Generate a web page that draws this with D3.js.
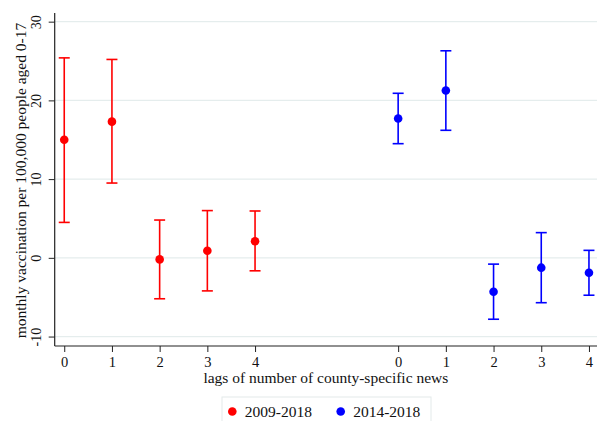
<!DOCTYPE html>
<html><head><meta charset="utf-8">
<script src="https://cdn.jsdelivr.net/npm/d3@7"></script>
<style>body{margin:0;background:#fff}svg{display:block}text{font-family:"Liberation Serif","Times New Roman",serif;fill:#111}</style>
</head><body>
<svg id="c" width="597" height="421"></svg>
<script>
const lags = [0, 1, 2, 3, 4];
const seriesNames = ["2009-2018", "2014-2018"];
const seriesColors = ["#ff0000", "#0000ff"];
const est2009 = [15.0, 17.3, -0.2, 0.9, 2.1];
const lo2009 = [4.5, 9.5, -5.2, -4.2, -1.65];
const hi2009 = [25.4, 25.2, 4.8, 6.0, 5.95];
const est2014 = [17.7, 21.25, -4.3, -1.25, -1.9];
const lo2014 = [14.5, 16.2, -7.8, -5.7, -4.75];
const hi2014 = [20.9, 26.3, -0.8, 3.2, 0.95];
const yTicks = [-10, 0, 10, 20, 30];
const xTitle = "lags of number of county-specific news";
const yTitle = "monthly vaccination per 100,000 people aged 0-17";

const groupGap = 7;
const series = [
  {name: seriesNames[0], color: seriesColors[0], est: est2009, lo: lo2009, hi: hi2009},
  {name: seriesNames[1], color: seriesColors[1], est: est2014, lo: lo2014, hi: hi2014}
];

const svg = d3.select("#c");
const pL = 54.7, pR = 598.5, pT = 13, pB = 346;
const x = d3.scaleLinear().domain([-0.2, 11.2]).range([pL, pR]);
const y = d3.scaleLinear().domain([-11.2, 31.1]).range([pB, pT]);

// grid
svg.append("g").selectAll("line").data(yTicks).join("line")
  .attr("x1", pL).attr("x2", 597)
  .attr("y1", d => y(d)).attr("y2", d => y(d))
  .attr("stroke", "#e5eded").attr("stroke-width", 1.2);

// y axis
const ya = svg.append("g").attr("transform", `translate(${pL},0)`)
  .call(d3.axisLeft(y).tickValues(yTicks).tickSize(6).tickPadding(8).tickFormat(d => String(d)));
ya.select(".domain").attr("stroke", "#222").attr("stroke-width", 1.2).attr("d", `M0,${pT}V${pB}`);
ya.selectAll(".tick line").attr("stroke", "#222");
ya.selectAll(".tick text").attr("font-size", 14).attr("text-anchor", "middle")
  .attr("x", 0).attr("dy", 0).attr("transform", "translate(-14,0) rotate(-90)");

// x axis
const xVals = [];
series.forEach((s, si) => lags.forEach(l => xVals.push(l + si * groupGap)));
const xa = svg.append("g").attr("transform", `translate(0,${pB})`)
  .call(d3.axisBottom(x).tickValues(xVals).tickSize(6).tickPadding(5)
    .tickFormat(d => String(d >= groupGap ? d - groupGap : d)));
xa.select(".domain").attr("stroke", "#222").attr("stroke-width", 1.2).attr("d", `M${pL},0H597`);
xa.selectAll(".tick line").attr("stroke", "#222");
xa.selectAll(".tick text").attr("font-size", 14.5);

// titles
svg.append("text").attr("x", (pL + 597) / 2).attr("y", 383).attr("text-anchor", "middle")
  .attr("font-size", 15.5).text(xTitle);
svg.append("text").attr("transform", `translate(25.5,180.5) rotate(-90)`)
  .attr("text-anchor", "middle").attr("font-size", 15.5).text(yTitle);

// marks
series.forEach((s, si) => {
  const g = svg.append("g");
  const data = lags.map((l, i) => ({xv: l + si * groupGap, est: s.est[i], lo: s.lo[i], hi: s.hi[i]}));
  g.selectAll(".v").data(data).join("line")
    .attr("x1", d => x(d.xv)).attr("x2", d => x(d.xv))
    .attr("y1", d => y(d.lo)).attr("y2", d => y(d.hi))
    .attr("stroke", s.color).attr("stroke-width", 1.6);
  ["lo", "hi"].forEach(k => {
    g.selectAll(".c" + k).data(data).join("line").attr("class", "c" + k)
      .attr("x1", d => x(d.xv) - 5.5).attr("x2", d => x(d.xv) + 5.5)
      .attr("y1", d => y(d[k])).attr("y2", d => y(d[k]))
      .attr("stroke", s.color).attr("stroke-width", 1.6);
  });
  g.selectAll("circle").data(data).join("circle")
    .attr("cx", d => x(d.xv)).attr("cy", d => y(d.est)).attr("r", 4.3)
    .attr("fill", s.color);
});

// legend
const lg = svg.append("g");
lg.append("rect").attr("x", 222).attr("y", 397).attr("width", 209).attr("height", 30)
  .attr("fill", "#fff").attr("stroke", "#e3eaea").attr("stroke-width", 1);
const legX = [232.3, 340.7];
series.forEach((s, si) => {
  lg.append("circle").attr("cx", legX[si]).attr("cy", 411.5).attr("r", 4.3).attr("fill", s.color);
  lg.append("text").attr("x", legX[si] + 12.5).attr("y", 416.5).attr("font-size", 15.5).text(s.name);
});
</script>
</body></html>
